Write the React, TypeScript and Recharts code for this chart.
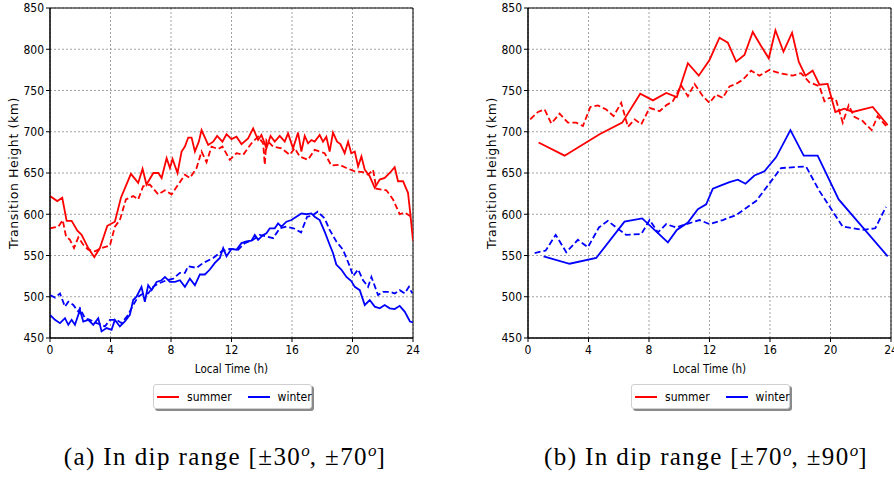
import React from "react";
import {
  LineChart,
  Line,
  XAxis,
  YAxis,
  CartesianGrid,
  ReferenceArea,
  Legend,
} from "recharts";

type Pt = [number, number];

const xTicks = [0, 4, 8, 12, 16, 20, 24];
const yTicks = [450, 500, 550, 600, 650, 700, 750, 800, 850];

// (a) dip range 30-70
const summerSolidA: Pt[] = [
  [0, 622], [0.48, 616], [0.81, 620], [1.1, 592], [1.43, 592], [1.81, 580], [2.09, 575],
  [2.53, 559], [2.93, 548], [3.3, 559], [3.79, 586], [4.29, 591], [4.69, 620], [5.35, 649],
  [5.83, 638], [6.12, 655], [6.38, 636], [6.83, 650], [7.16, 650], [7.38, 644], [7.71, 668],
  [7.93, 656], [8.1, 667], [8.43, 650], [8.7, 676], [8.92, 682], [9.14, 693], [9.36, 693],
  [9.58, 676], [9.84, 688], [10.02, 702], [10.46, 684], [10.79, 688], [11.05, 695], [11.4, 688],
  [11.67, 697], [12.0, 691], [12.33, 694], [12.66, 685], [13.1, 692], [13.43, 704], [13.76, 690],
  [13.98, 696], [14.31, 680], [14.58, 695], [14.86, 688], [15.19, 695], [15.52, 688], [15.74, 698],
  [16.07, 680], [16.4, 699], [16.62, 676], [16.84, 695], [17.06, 686], [17.28, 690], [17.5, 688],
  [17.83, 696], [18.05, 688], [18.27, 694], [18.49, 676], [18.71, 699], [18.98, 688], [19.2, 685],
  [19.48, 674], [19.71, 688], [19.92, 674], [20.15, 676], [20.37, 658], [20.59, 670], [20.81, 654],
  [21.14, 646], [21.47, 632], [21.8, 642], [22.13, 644], [22.46, 650], [22.79, 657], [23.01, 640],
  [23.34, 640], [23.67, 626], [23.82, 601], [24, 568],
];
const summerDashA: Pt[] = [
  [0, 583], [0.55, 585], [0.84, 593], [1.06, 573], [1.32, 569], [1.59, 559], [1.87, 572],
  [2.2, 563], [2.53, 557], [2.97, 555], [3.41, 559], [3.96, 562], [4.29, 585], [4.62, 593],
  [5.02, 618], [5.5, 622], [5.83, 618], [6.16, 634], [6.6, 636], [7.16, 624], [7.6, 629],
  [8.04, 624], [8.48, 636], [8.92, 648], [9.25, 644], [9.69, 656], [10.02, 676], [10.35, 663],
  [10.68, 682], [11.12, 679], [11.4, 682], [11.89, 666], [12.33, 674], [12.77, 672], [13.32, 686],
  [13.76, 694], [14.09, 686], [14.2, 660], [14.31, 690], [14.75, 682], [15.3, 680], [15.85, 672],
  [16.18, 680], [16.51, 670], [17.06, 666], [17.5, 678], [18.16, 674], [18.6, 659], [19.15, 660],
  [19.6, 656], [20.15, 652], [20.7, 651], [21.03, 648], [21.36, 654], [21.58, 631], [22.24, 629],
  [22.68, 618], [23.12, 600], [23.45, 602], [23.89, 597],
];
const winterSolidA: Pt[] = [
  [0, 478], [0.33, 472], [0.66, 468], [0.99, 474], [1.21, 466], [1.43, 472], [1.65, 466],
  [1.98, 484], [2.2, 470], [2.53, 472], [2.86, 466], [3.19, 474], [3.41, 458], [3.74, 462],
  [4.07, 460], [4.29, 472], [4.62, 464], [4.95, 470], [5.28, 478], [5.5, 496], [5.72, 500],
  [6.05, 512], [6.27, 494], [6.49, 514], [6.72, 508], [7.05, 518], [7.38, 520], [7.6, 524],
  [7.93, 518], [8.26, 518], [8.59, 520], [8.92, 512], [9.25, 522], [9.58, 514], [9.91, 527],
  [10.24, 527], [10.57, 533], [10.9, 541], [11.23, 547], [11.45, 559], [11.67, 549], [12.0, 558],
  [12.33, 557], [12.66, 565], [12.99, 567], [13.32, 568], [13.54, 575], [13.76, 569], [14.09, 575],
  [14.31, 577], [14.53, 583], [14.86, 583], [15.08, 589], [15.3, 585], [15.63, 591], [15.96, 593],
  [16.29, 597], [16.62, 601], [16.95, 600], [17.28, 601], [17.5, 597], [17.83, 593], [18.16, 579],
  [18.49, 563], [18.71, 553], [18.93, 539], [19.26, 533], [19.6, 524], [19.92, 519], [20.15, 512],
  [20.48, 508], [20.81, 490], [21.14, 496], [21.47, 488], [21.8, 486], [22.13, 490], [22.46, 486],
  [22.79, 485], [23.12, 489], [23.45, 482], [23.8, 470], [24, 469],
];
const winterDashA: Pt[] = [
  [0, 502], [0.33, 499], [0.66, 504], [0.99, 488], [1.21, 494], [1.54, 490], [1.87, 482],
  [1.98, 486], [2.31, 474], [2.64, 472], [3.08, 468], [3.41, 466], [3.63, 464], [3.96, 472],
  [4.4, 472], [4.73, 468], [5.17, 478], [5.5, 490], [5.83, 500], [6.16, 504], [6.49, 504],
  [6.82, 512], [7.16, 516], [7.71, 520], [8.15, 522], [8.59, 529], [8.92, 529], [9.14, 537],
  [9.69, 535], [10.13, 541], [10.79, 547], [11.34, 555], [11.89, 558], [12.44, 557], [12.88, 565],
  [13.43, 569], [13.87, 575], [14.31, 573], [14.75, 571], [15.19, 583], [15.63, 585], [16.1, 583],
  [16.6, 578], [17.0, 597], [17.3, 598], [17.7, 603], [18.16, 595], [18.49, 581], [18.93, 567],
  [19.37, 557], [19.82, 537], [20.04, 525], [20.37, 533], [20.7, 520], [21.03, 512], [21.25, 524],
  [21.69, 502], [22.02, 506], [22.46, 506], [22.79, 504], [23.12, 508], [23.45, 504], [23.73, 512],
  [23.95, 504],
];

// (b) dip range 70-90
const summerSolidB: Pt[] = [
  [0.7, 687], [2.42, 671], [4.73, 697], [6.23, 711], [7.42, 746], [8.26, 738], [9.14, 747],
  [9.84, 742], [10.57, 783], [11.29, 768], [12.0, 787], [12.66, 814], [13.21, 808], [13.76, 785],
  [14.31, 793], [14.86, 821], [15.41, 804], [15.92, 789], [16.36, 823], [16.89, 797], [17.46, 820],
  [17.9, 785], [18.34, 768], [18.82, 774], [19.27, 757], [19.81, 758], [20.32, 724], [20.92, 728],
  [21.47, 724], [22.79, 730], [23.78, 708],
];
const summerDashB: Pt[] = [
  [0.15, 715], [0.66, 724], [1.1, 727], [1.54, 710], [2.09, 722], [2.64, 711], [3.19, 711],
  [3.63, 707], [4.12, 730], [4.62, 732], [5.17, 727], [5.66, 719], [6.16, 735], [6.61, 706],
  [7.05, 715], [7.49, 709], [8.04, 729], [8.7, 725], [9.14, 732], [9.58, 737], [10.13, 756],
  [10.57, 743], [11.01, 758], [11.56, 743], [12.0, 735], [12.44, 745], [12.88, 741], [13.32, 755],
  [13.76, 758], [14.2, 763], [14.75, 774], [15.3, 768], [15.96, 775], [16.62, 771], [17.5, 768],
  [18.05, 771], [18.6, 760], [19.27, 755], [19.6, 737], [19.92, 741], [20.36, 739], [20.81, 711],
  [21.2, 732], [21.58, 718], [22.13, 713], [22.72, 702], [23.12, 719], [23.67, 707],
];
const winterSolidB: Pt[] = [
  [1.03, 549], [2.75, 540], [4.51, 547], [6.38, 591], [7.55, 595], [9.25, 566], [9.84, 581],
  [10.57, 590], [11.23, 606], [11.78, 612], [12.22, 631], [12.77, 635], [13.32, 639], [13.87, 642],
  [14.38, 637], [14.97, 647], [15.63, 652], [16.4, 669], [17.35, 702], [18.23, 671], [19.15, 671],
  [20.54, 618], [23.78, 549],
];
const winterDashB: Pt[] = [
  [0.44, 553], [1.17, 556], [1.83, 575], [2.53, 554], [3.3, 569], [3.96, 560], [4.69, 584],
  [5.28, 592], [5.83, 584], [6.49, 575], [7.49, 576], [8.04, 593], [8.59, 578], [9.14, 588],
  [9.8, 584], [10.46, 588], [11.34, 593], [12.0, 588], [12.88, 593], [13.76, 599], [15.08, 616],
  [15.74, 632], [16.73, 656], [18.38, 658], [19.27, 628], [20.81, 585], [22.13, 581], [22.96, 583],
  [23.67, 609],
];

const rows = (pts: Pt[]) => pts.map(([t, h]) => ({ t, h }));

const tickFont = {
  fontFamily: "'DejaVu Sans Condensed', 'DejaVu Sans', sans-serif",
  fontStretch: "condensed" as const,
  fontSize: 12,
  fill: "#000",
};

const renderLegend = (props: any) => {
  const items = (props.payload || []).filter((p: any) => p.type !== "none");
  return (
    <div
      style={{
        display: "flex",
        alignItems: "center",
        height: 25,
        width: 159,
        boxSizing: "border-box",
        padding: "0 4px 0 3px",
        background: "#fff",
        border: "1px solid #d0d0d0",
        borderRadius: 3,
        boxShadow: "2px 2px 0 #8a8a8a",
        fontFamily: tickFont.fontFamily,
        fontStretch: "condensed",
        fontSize: 12,
        color: "#000",
      }}
    >
      {items.map((p: any) => (
        <span key={p.value} style={{ display: "flex", alignItems: "center", marginRight: 16 }}>
          <span style={{ width: 22, height: 2, background: p.color, marginRight: 8 }} />
          {p.value}
        </span>
      ))}
    </div>
  );
};

type PanelProps = {
  left: number;
  summerSolid: Pt[];
  summerDash: Pt[];
  winterSolid: Pt[];
  winterDash: Pt[];
};

const Panel = ({ left, summerSolid, summerDash, winterSolid, winterDash }: PanelProps) => (
  <div style={{ position: "absolute", left, top: 0 }}>
    <LineChart width={420} height={420} margin={{ top: 8, right: 7, bottom: 60, left: 0 }}>
      <CartesianGrid stroke="#8c8c8c" strokeDasharray="2 2" strokeWidth={0.8} />
      <XAxis
        dataKey="t"
        type="number"
        domain={[0, 24]}
        ticks={xTicks}
        allowDataOverflow
        height={22}
        stroke="#000"
        tickSize={4}
        tickMargin={3}
        tick={tickFont}
        label={{
          value: "Local Time (h)",
          position: "bottom",
          offset: 5,
          style: { ...tickFont, fontSize: 11.5 },
        }}
      />
      <YAxis
        type="number"
        domain={[450, 850]}
        ticks={yTicks}
        allowDataOverflow
        width={50}
        stroke="#000"
        tickSize={4}
        tickMargin={2}
        tick={tickFont}
        label={{
          value: "Transition Height (km)",
          angle: -90,
          position: "insideLeft",
          offset: 14,
          style: {
            fontFamily: "'DejaVu Sans', sans-serif",
            fontSize: 12.5,
            fill: "#000",
            textAnchor: "middle",
            letterSpacing: 0.6,
          },
        }}
      />
      <ReferenceArea x1={0} x2={24} y1={450} y2={850} fill="none" stroke="#000" strokeWidth={1} ifOverflow="visible" />
      <Line data={rows(summerDash)} dataKey="h" stroke="#ff0000" strokeWidth={1.8} strokeDasharray="6 3" dot={false} legendType="none" isAnimationActive={false} />
      <Line data={rows(winterDash)} dataKey="h" stroke="#0000ff" strokeWidth={1.8} strokeDasharray="6 3" dot={false} legendType="none" isAnimationActive={false} />
      <Line data={rows(summerSolid)} dataKey="h" name="summer" stroke="#ff0000" strokeWidth={1.8} dot={false} legendType="line" isAnimationActive={false} />
      <Line data={rows(winterSolid)} dataKey="h" name="winter" stroke="#0000ff" strokeWidth={1.8} dot={false} legendType="line" isAnimationActive={false} />
      <Legend
        layout="horizontal"
        verticalAlign="middle"
        align="center"
        content={renderLegend}
        wrapperStyle={{ left: 153, top: 384, width: 159, height: 25 }}
      />
    </LineChart>
  </div>
);

const captionStyle: React.CSSProperties = {
  position: "absolute",
  top: 441,
  width: 380,
  textAlign: "center",
  fontFamily: "'Liberation Serif', serif",
  fontSize: 25,
  letterSpacing: 1.4,
  color: "#000",
  whiteSpace: "nowrap",
};

const sup: React.CSSProperties = { fontSize: 17, letterSpacing: 0 };

export default function App() {
  return (
    <div
      style={{
        position: "absolute",
        left: 0,
        top: 0,
        width: 894,
        height: 477,
        overflow: "hidden",
        background: "#fff",
      }}
    >
      <Panel left={0} summerSolid={summerSolidA} summerDash={summerDashA} winterSolid={winterSolidA} winterDash={winterDashA} />
      <Panel left={478} summerSolid={summerSolidB} summerDash={summerDashB} winterSolid={winterSolidB} winterDash={winterDashB} />
      <div style={{ ...captionStyle, left: 35 }}>
        (a) In dip range [±30<sup style={sup}><i>o</i></sup>, ±70<sup style={sup}><i>o</i></sup>]
      </div>
      <div style={{ ...captionStyle, left: 516 }}>
        (b) In dip range [±70<sup style={sup}><i>o</i></sup>, ±90<sup style={sup}><i>o</i></sup>]
      </div>
    </div>
  );
}
